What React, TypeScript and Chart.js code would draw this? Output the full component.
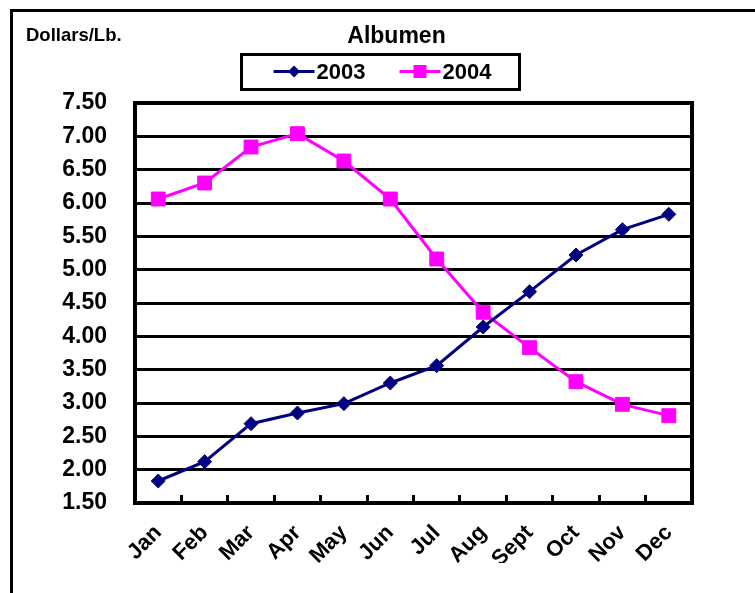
import React, { useEffect, useRef } from 'react';
import { Chart, registerables } from 'chart.js';

Chart.register(...registerables);

const months = ['Jan', 'Feb', 'Mar', 'Apr', 'May', 'Jun', 'Jul', 'Aug', 'Sept', 'Oct', 'Nov', 'Dec'];
const values2003 = [1.83, 2.12, 2.69, 2.85, 2.99, 3.3, 3.56, 4.14, 4.67, 5.22, 5.6, 5.83];
const values2004 = [6.06, 6.3, 6.84, 7.04, 6.63, 6.06, 5.16, 4.36, 3.83, 3.32, 2.98, 2.81];
const seriesLabels = ['2003', '2004'];
const seriesColors = ['#000080', '#FF00FF'];
const chartTitle = 'Albumen';
const unitLabel = 'Dollars/Lb.';
const yMin = 1.5;
const yMax = 7.5;
const yStep = 0.5;

const FONT = '"Liberation Sans", Arial, Helvetica, sans-serif';

const decorPlugin = {
  id: 'decor',
  beforeDatasetsDraw(chart: any) {
    const { ctx, chartArea } = chart;
    ctx.save();
    ctx.strokeStyle = '#000';
    ctx.lineWidth = 4;
    ctx.strokeRect(chartArea.left, chartArea.top, chartArea.right - chartArea.left, chartArea.bottom - chartArea.top);
    ctx.restore();
  },
  afterDraw(chart: any) {
    const ctx = chart.ctx;
    ctx.save();
    // outer frame (top and left visible)
    ctx.strokeStyle = '#000';
    ctx.lineWidth = 3;
    ctx.beginPath();
    ctx.moveTo(11.5, chart.height + 5);
    ctx.lineTo(11.5, 10.5);
    ctx.lineTo(chart.width + 5, 10.5);
    ctx.stroke();

    ctx.fillStyle = '#000';
    ctx.textBaseline = 'alphabetic';
    ctx.textAlign = 'left';
    ctx.font = `bold 18.5px ${FONT}`;
    ctx.fillText(unitLabel, 26, 41);

    ctx.textAlign = 'center';
    ctx.font = `bold 23px ${FONT}`;
    ctx.fillText(chartTitle, 396.5, 42.5);

    // legend box
    ctx.lineWidth = 3;
    ctx.strokeRect(241.5, 54.5, 278, 35);

    ctx.font = `bold 22px ${FONT}`;
    const lineLen = 41;
    const gapText = 2;
    const gapItem = 34;
    const datasets = chart.data.datasets;
    const widths = datasets.map((d: any) => ctx.measureText(d.label).width);
    const total = widths.reduce((s: number, w: number) => s + lineLen + gapText + w, 0) + gapItem * (datasets.length - 1);
    let x = 382.5 - total / 2;
    const ly = 71.5;
    datasets.forEach((d: any, i: number) => {
      ctx.strokeStyle = d.borderColor;
      ctx.fillStyle = d.borderColor;
      ctx.lineWidth = 3;
      ctx.beginPath();
      ctx.moveTo(x, ly);
      ctx.lineTo(x + lineLen, ly);
      ctx.stroke();
      const cx = x + lineLen / 2;
      ctx.beginPath();
      if (d.pointStyle === 'rectRot') {
        const r = 6;
        ctx.moveTo(cx, ly - r);
        ctx.lineTo(cx + r, ly);
        ctx.lineTo(cx, ly + r);
        ctx.lineTo(cx - r, ly);
        ctx.closePath();
      } else {
        ctx.rect(cx - 6.5, ly - 6.5, 13, 13);
      }
      ctx.fill();
      ctx.fillStyle = '#000';
      ctx.textAlign = 'left';
      ctx.fillText(d.label, x + lineLen + gapText, 78.5);
      x += lineLen + gapText + widths[i] + gapItem;
    });
    ctx.restore();
  },
};

export default function App() {
  const ref = useRef<HTMLCanvasElement>(null);
  useEffect(() => {
    if (!ref.current) return;
    const chart = new Chart(ref.current, {
      type: 'line',
      data: {
        labels: months,
        datasets: [
          {
            label: seriesLabels[0],
            data: values2003,
            borderColor: seriesColors[0],
            backgroundColor: seriesColors[0],
            borderWidth: 3,
            pointStyle: 'rectRot',
            pointRadius: 7,
            pointBorderWidth: 1,
            tension: 0,
          },
          {
            label: seriesLabels[1],
            data: values2004,
            borderColor: seriesColors[1],
            backgroundColor: seriesColors[1],
            borderWidth: 3,
            pointStyle: 'rect',
            pointRadius: 9.8,
            pointBorderWidth: 1,
            tension: 0,
          },
        ],
      },
      options: {
        responsive: false,
        animation: false,
        devicePixelRatio: 1,
        layout: { padding: { top: 103, left: 0, right: 63, bottom: 30 } },
        plugins: {
          legend: { display: false },
          title: { display: false },
          tooltip: { enabled: false },
        },
        scales: {
          x: {
            type: 'category',
            offset: true,
            afterFit: (scale: any) => {
              scale.height = 60;
            },
            grid: {
              offset: true,
              display: true,
              drawOnChartArea: false,
              drawTicks: true,
              tickLength: -8,
              color: '#000',
              lineWidth: 3,
            },
            border: { display: true, color: '#000', width: 4 },
            ticks: {
              autoSkip: false,
              minRotation: 45,
              maxRotation: 45,
              padding: 25,
              color: '#000',
              font: { family: FONT, size: 22, weight: 'bold' },
            },
          },
          y: {
            min: yMin,
            max: yMax,
            afterFit: (scale: any) => {
              scale.width = 135;
            },
            grid: { color: '#000', lineWidth: 3, drawTicks: false },
            border: { display: true, color: '#000', width: 4 },
            ticks: {
              stepSize: yStep,
              padding: 28,
              color: '#000',
              font: { family: FONT, size: 23, weight: 'bold' },
              callback: (v: any) => Number(v).toFixed(2),
            },
          },
        },
      },
      plugins: [decorPlugin],
    } as any);
    return () => chart.destroy();
  }, []);
  return (
    <div style={{ position: 'fixed', left: 0, top: 0, width: 755, height: 593, background: '#fff' }}>
      <canvas ref={ref} width={755} height={593} style={{ display: 'block', width: 755, height: 593 }} />
    </div>
  );
}
